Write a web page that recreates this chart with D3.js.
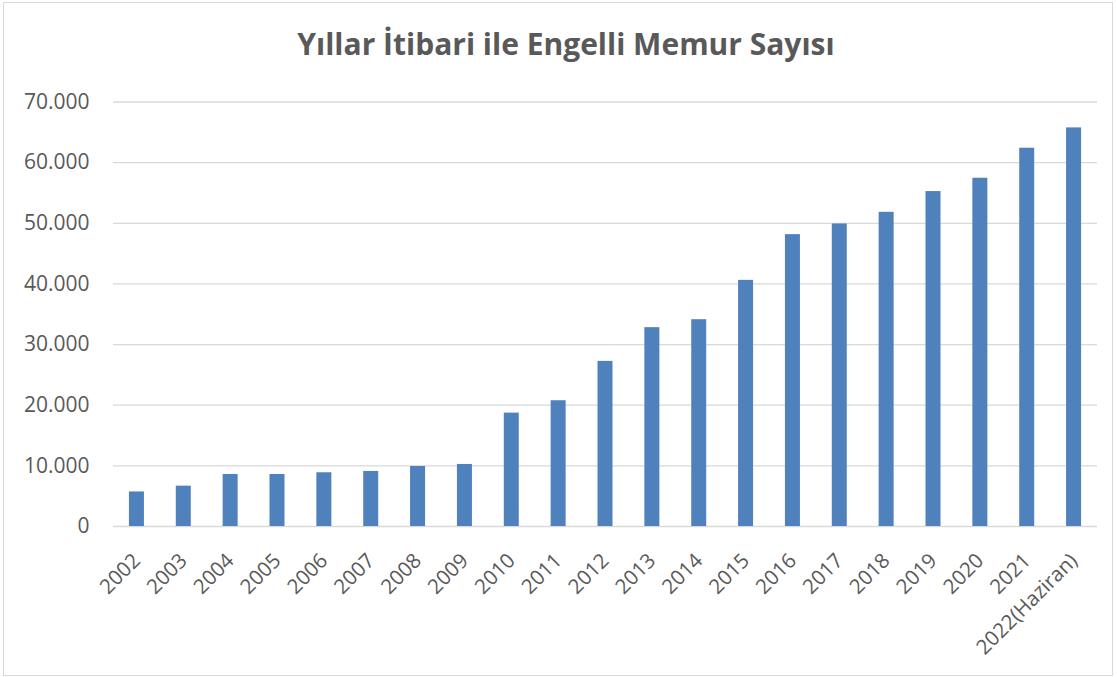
<!DOCTYPE html>
<html><head><meta charset="utf-8">
<script src="https://cdn.jsdelivr.net/npm/d3@7"></script>
<style>body{margin:0;background:#fff}svg{display:block}</style>
</head><body>
<svg id="c" width="1117" height="677"></svg>
<script>
const categories = ["2002","2003","2004","2005","2006","2007","2008","2009","2010","2011","2012","2013","2014","2015","2016","2017","2018","2019","2020","2021","2022(Haziran)"];
const values = [5700,6650,8580,8580,8860,9080,9900,10230,18700,20740,27230,32790,34100,40590,48130,49890,51810,55230,57430,62380,65730];
const yTicks = [0,10000,20000,30000,40000,50000,60000,70000];
const title = "Yıllar İtibari ile Engelli Memur Sayısı";

const svg = d3.select("#c");
const W = 1117, H = 677;
const m = {left:113, right:20, top:101.5, bottom:151};
const iw = W - m.left - m.right, ih = H - m.top - m.bottom;

svg.append("rect").attr("x",3.5).attr("y",2.5).attr("width",1109).attr("height",673)
  .attr("fill","#fff").attr("stroke","#d9d9d9").attr("stroke-width",1);

svg.append("text").attr("x",566).attr("y",55).attr("text-anchor","middle")
  .attr("font-family","'Open Sans', sans-serif").attr("font-weight","bold")
  .attr("font-size",30).attr("fill","#595959").text(title);

const x = d3.scaleBand().domain(categories).range([0,iw]).paddingInner(0.68).paddingOuter(0.34);
const y = d3.scaleLinear().domain([0,70000]).range([ih,0]);
const fmt = d => d3.format(",")(d).replace(/,/g,".");

const g = svg.append("g").attr("transform",`translate(${m.left},${m.top})`);

const ya = g.append("g").call(d3.axisLeft(y).tickValues(yTicks).tickSize(-iw).tickFormat(fmt));
ya.select(".domain").remove();
ya.selectAll("line").attr("stroke","#d9d9d9").attr("stroke-width",1.3);
ya.selectAll("text").attr("x",-23.5).attr("font-family","'Open Sans', sans-serif")
  .attr("font-size",21).attr("fill","#595959");

g.selectAll("rect.bar").data(values).enter().append("rect").attr("class","bar")
  .attr("x",(d,i)=>x(categories[i])).attr("width",x.bandwidth())
  .attr("y",d=>y(d)).attr("height",d=>ih-y(d)).attr("fill","#4f81bd");

const xa = g.append("g").attr("transform",`translate(0,${ih})`).call(d3.axisBottom(x).tickSize(0));
xa.select(".domain").remove();
xa.selectAll("text").attr("font-family","'Open Sans', sans-serif").attr("font-size",20.5)
  .attr("fill","#595959").attr("text-anchor","end").attr("dy",null).attr("y",0).attr("x",0)
  .attr("transform","translate(5,36) rotate(-45)");
</script>
</body></html>
